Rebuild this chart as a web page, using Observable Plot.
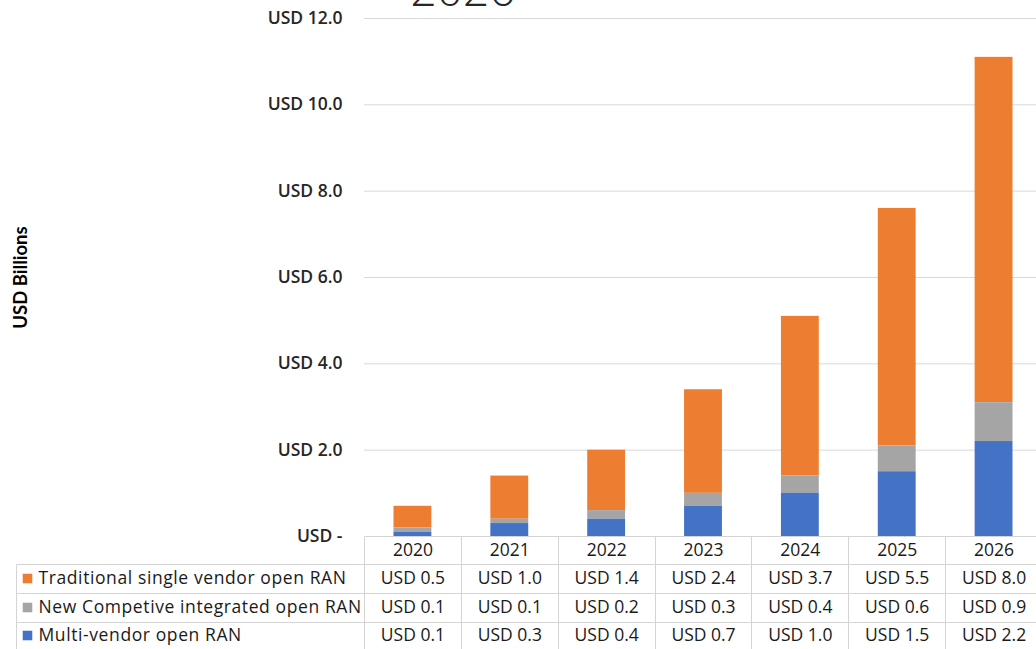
<!DOCTYPE html>
<html><head><meta charset="utf-8">
<script src="https://cdn.jsdelivr.net/npm/d3@7"></script>
<script src="https://cdn.jsdelivr.net/npm/@observablehq/plot@0.6"></script>
<style>
html,body{margin:0;padding:0;background:#fff;overflow:hidden;}
#chart{width:1050px;}
</style></head><body><div id="chart"></div>
<script>
const years = ["2020", "2021", "2022", "2023", "2024", "2025", "2026"];
const traditional = [0.5, 1.0, 1.4, 2.4, 3.7, 5.5, 8.0];
const competitive = [0.1, 0.1, 0.2, 0.3, 0.4, 0.6, 0.9];
const multiVendor = [0.1, 0.3, 0.4, 0.7, 1.0, 1.5, 2.2];
const seriesNames = ["Traditional single vendor open RAN", "New Competive integrated open RAN", "Multi-vendor open RAN"];
const seriesColors = ["#ED7D31", "#A5A5A5", "#4472C4"];
const yTicks = [0, 2, 4, 6, 8, 10, 12];
const gridTicks = [2, 4, 6, 8, 10, 12];
const titleText = "2026";
const yLabel = "USD Billions";

const seriesValues = [traditional, competitive, multiVendor];
const rows = seriesNames.flatMap((name, s) => years.map((year, i) => ({series: name, year, value: seriesValues[s][i]})));

const W = 1050, H = 649, ML = 364, MR = 8, MT = 18, MB = 113;
const FONT = "'Open Sans', 'Noto Sans', sans-serif";
const fmt = v => "USD " + v.toFixed(1);
const headerDy = 19;
const rowDy = [47, 76, 104];
const dotDy = [42, 71, 99];

const tableMarks = seriesNames.flatMap((name, s) => [
  Plot.dot([name], {frameAnchor: "bottom-left", dx: 27 - ML, dy: dotDy[s], symbol: "square", r: 5.4, fill: seriesColors[s], stroke: "none"}),
  Plot.text([name], {text: d => d, frameAnchor: "bottom-left", dx: 38 - ML, dy: rowDy[s], textAnchor: "start", fontSize: 17.5, fill: "#1a1a1a"}),
  Plot.text(years, {x: d => d, text: (d, i) => fmt(seriesValues[s][i]), frameAnchor: "bottom", dy: rowDy[s], fontSize: 17.5, fontWeight: 500, fill: "#1a1a1a"})
]);

const plot = Plot.plot({
  width: W, height: H, marginLeft: ML, marginRight: MR, marginTop: MT, marginBottom: MB,
  style: {fontFamily: FONT, fontSize: "17.5px", fontWeight: 600, color: "#262626", background: "#fff", overflow: "visible"},
  x: {type: "band", domain: years, paddingInner: 0, paddingOuter: 0, round: false, axis: null},
  y: {domain: [0, 12], ticks: yTicks, tickFormat: d => d === 0 ? "USD -" : "USD " + d.toFixed(1), tickSize: 0, tickPadding: 22, label: null},
  color: {domain: seriesNames, range: seriesColors},
  marks: [
    Plot.ruleY(gridTicks, {stroke: "#d9d9d9", strokeWidth: 1}),
    Plot.barY(rows, {x: "year", y: "value", fill: "series", order: [...seriesNames].reverse(), insetLeft: 29.5, insetRight: 29.5}),
    Plot.text(years, {x: d => d, text: d => d, frameAnchor: "bottom", dy: headerDy, fontSize: 17.5, fontWeight: 500, fill: "#1a1a1a"}),
    ...tableMarks,
    Plot.text([yLabel], {text: d => d, frameAnchor: "left", dx: 21 - ML, rotate: -90, textAnchor: "middle", fontWeight: "bold", fontSize: 18.5, fill: "#000", fontFamily: "Lato, 'Liberation Sans', sans-serif"}),
    Plot.text([titleText], {text: d => d, frameAnchor: "top-left", dx: 410 - ML, dy: -13, textAnchor: "start", lineAnchor: "bottom", fontSize: 46, fontWeight: 300, fill: "#262626"})
  ]
});
document.getElementById("chart").appendChild(plot);
d3.select(plot).selectAll("text").filter(function() { return seriesNames.includes(this.textContent); })
  .style("letter-spacing", "0.6px").style("font-weight", 400);

// table borders, positioned from the plot's own scales
const xs = plot.scale("x");
const ys = plot.scale("y");
const y0 = Math.round(ys.apply(0)) + 0.5;
const rowLines = [y0 + 28, y0 + 57, y0 + 86];
const bounds = years.map(y => Math.round(xs.apply(y)) + 0.5).concat([Math.round(xs.apply(years[years.length - 1]) + xs.bandwidth) + 0.5]);
const g = d3.select(plot).append("g").attr("stroke", "#d4d4d4").attr("stroke-width", 1).attr("fill", "none");
g.append("line").attr("x1", bounds[0]).attr("x2", W).attr("y1", y0).attr("y2", y0);
rowLines.forEach(y => g.append("line").attr("x1", 16.5).attr("x2", W).attr("y1", y).attr("y2", y));
bounds.forEach(x => g.append("line").attr("x1", x).attr("x2", x).attr("y1", y0).attr("y2", H));
g.append("line").attr("x1", 16.5).attr("x2", 16.5).attr("y1", rowLines[0]).attr("y2", H);
</script></body></html>
